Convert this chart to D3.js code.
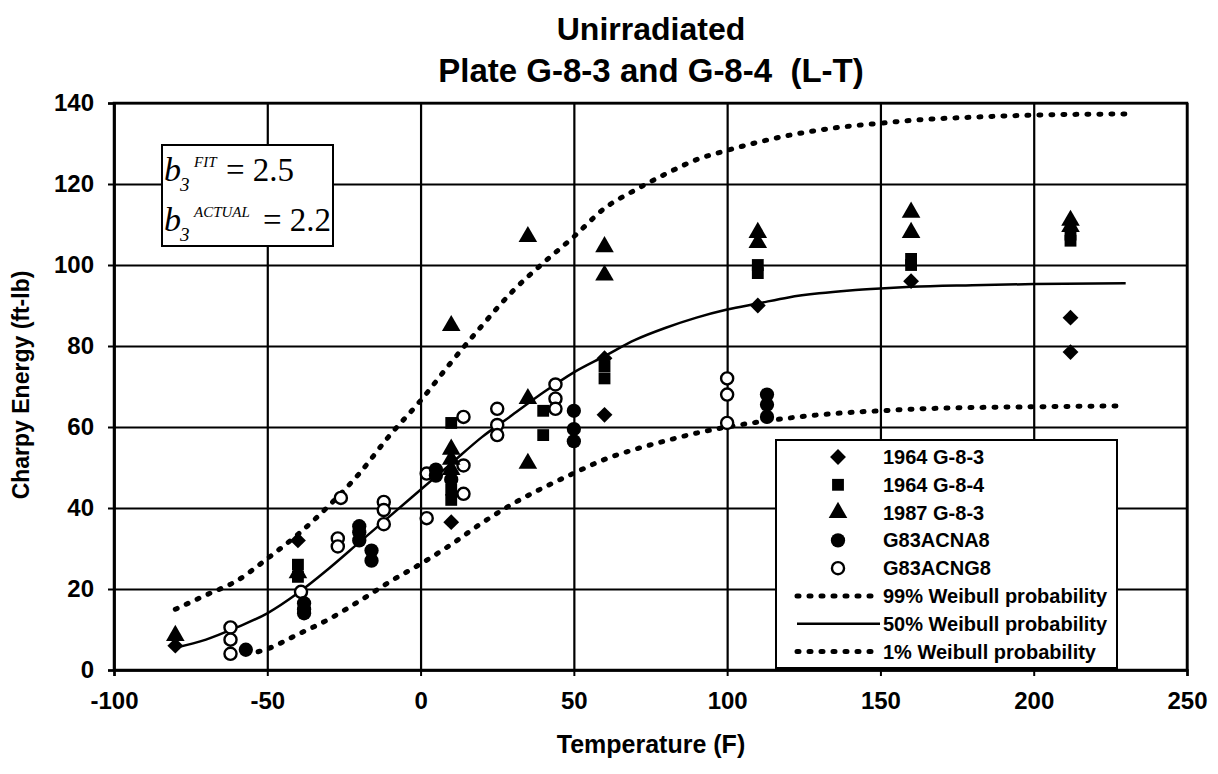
<!DOCTYPE html>
<html>
<head>
<meta charset="utf-8">
<script src="https://cdn.jsdelivr.net/npm/d3@7"></script>
<style>
  body { margin: 0; background: #fff; }
  text { font-family: "Liberation Sans", Arial, sans-serif; font-weight: bold; fill: #000; }
</style>
</head>
<body>
<div id="chart"></div>
<script>
// measured points (Temperature F, Charpy energy ft-lb)
var g83_1964Temp = [-80, -40, 10, 60, 60, 110, 160, 212, 212];
var g83_1964Energy = [6, 32, 36.5, 63, 77, 90, 96, 87, 78.5];

var g84_1964Temp = [-40, -40, 10, 10, 10, 40, 40, 60, 60, 110, 110, 160, 160, 212, 212];
var g84_1964Energy = [26, 23, 61, 44.5, 42, 64, 58, 75, 72, 98, 100, 100, 101.5, 106, 107.5];

var g83_1987Temp = [-80, -40, 10, 10, 10, 10, 35, 35, 35, 60, 60, 110, 110, 160, 160, 212, 212];
var g83_1987Energy = [8.5, 24, 85, 54.5, 52, 49.5, 107, 67, 51, 104.5, 97.5, 108, 105.5, 113, 108, 111, 109.5];

var acna8Temp = [-57, -38, -38, -38, -20, -20, -20, -16, -16, 5, 5, 10, 50, 50, 50, 113, 113, 113];
var acna8Energy = [5, 16.5, 15, 14, 35.5, 34, 32, 29.5, 27, 49.5, 48, 47, 64, 59.5, 56.5, 68, 65.5, 62.5];

var acng8Temp = [-62, -62, -62, -39, -26, -27, -27, -12, -12, -12, 2, 2, 14, 14, 14, 25, 25, 25, 44, 44, 44, 100, 100, 100];
var acng8Energy = [10.5, 7.5, 4, 19.3, 42.5, 32.5, 30.5, 41.5, 39.5, 36, 48.5, 37.5, 62.5, 50.5, 43.5, 64.5, 60.5, 58, 70.5, 67, 64.5, 72, 68, 61];

// Weibull curves
var upperTemp = [-80, -70, -60, -50, -40, -30, -20, -10, 0, 10, 20, 30, 40, 50, 60, 70, 80, 90, 100, 110, 120, 130, 140, 150, 160, 180, 200, 230];
var upperEnergy = [15, 18.5, 22, 27.5, 33.5, 40.5, 48.5, 58, 66.5, 76, 85, 93.5, 100.5, 107, 114, 118.5, 122.5, 126, 128.3, 130.3, 132, 133.3, 134.3, 135, 135.7, 136.5, 137, 137.3];

var midTemp = [-80, -70, -60, -50, -40, -30, -20, -10, 0, 10, 20, 30, 40, 50, 60, 70, 80, 90, 100, 110, 120, 130, 140, 150, 160, 180, 200, 230];
var midEnergy = [5.5, 7.5, 10.5, 14, 19, 25, 31.5, 38, 44.5, 51, 57.5, 63, 68.5, 73.5, 77.5, 81.5, 84.5, 87, 89, 90.5, 92, 93, 93.7, 94.2, 94.6, 95, 95.3, 95.5];

var lowerTemp = [-53, -50, -40, -30, -20, -10, 0, 10, 20, 30, 40, 50, 60, 70, 80, 90, 100, 110, 120, 130, 140, 150, 160, 180, 200, 230];
var lowerEnergy = [4.5, 5.2, 8.8, 12.5, 17, 21.8, 26.2, 31, 36.3, 41, 45, 48.6, 52, 54.5, 56.6, 58.5, 60, 61.2, 62.2, 63, 63.6, 64, 64.4, 64.8, 65, 65.2];

var xTicks = [-100, -50, 0, 50, 100, 150, 200, 250];
var yTicks = [0, 20, 40, 60, 80, 100, 120, 140];

var legendLabels = ["1964 G-8-3", "1964 G-8-4", "1987 G-8-3", "G83ACNA8", "G83ACNG8",
    "99% Weibull probability", "50% Weibull probability", "1% Weibull probability"];

function init() {
    var w = 1218;
    var h = 774;
    var left = 114, right = 1187, top = 103, bottom = 670;

    var svg = d3.select("#chart")
        .append("svg")
        .attr("width", w)
        .attr("height", h);

    var x = d3.scaleLinear().domain([-100, 250]).range([left, right]);
    var y = d3.scaleLinear().domain([0, 140]).range([bottom, top]);

    // grid
    svg.append("g")
        .attr("transform", "translate(0," + bottom + ")")
        .call(d3.axisBottom(x).tickValues(xTicks).tickSize(-(bottom - top)).tickFormat(""))
        .call(function (g) {
            g.select(".domain").remove();
            g.selectAll("line").attr("stroke", "#000").attr("stroke-width", 2.2);
        });
    svg.append("g")
        .attr("transform", "translate(" + left + ",0)")
        .call(d3.axisLeft(y).tickValues(yTicks).tickSize(-(right - left)).tickFormat(""))
        .call(function (g) {
            g.select(".domain").remove();
            g.selectAll("line").attr("stroke", "#000").attr("stroke-width", 2.2);
        });

    // axes with outward ticks and labels
    svg.append("g")
        .attr("transform", "translate(0," + bottom + ")")
        .call(d3.axisBottom(x).tickValues(xTicks).tickSize(6).tickPadding(16).tickFormat(function (d) { return String(d); }))
        .call(function (g) {
            g.select(".domain").attr("stroke-width", 2.5);
            g.selectAll("line").attr("stroke-width", 2);
            g.selectAll("text").style("font-size", "24px").style("font-family", "Liberation Sans, Arial, sans-serif");
        });
    svg.append("g")
        .attr("transform", "translate(" + left + ",0)")
        .call(d3.axisLeft(y).tickValues(yTicks).tickSize(6).tickPadding(14))
        .call(function (g) {
            g.select(".domain").attr("stroke-width", 2.5);
            g.selectAll("line").attr("stroke-width", 2);
            g.selectAll("text").style("font-size", "24px").style("font-family", "Liberation Sans, Arial, sans-serif");
        });

    svg.append("rect")
        .attr("x", left).attr("y", top)
        .attr("width", right - left).attr("height", bottom - top)
        .attr("fill", "none").attr("stroke", "#000").attr("stroke-width", 2.5);

    // curves
    function curvePts(ts, vs) {
        return ts.map(function (t, i) { return [t, vs[i]]; });
    }
    var line = d3.line()
        .x(function (d) { return x(d[0]); })
        .y(function (d) { return y(d[1]); })
        .curve(d3.curveMonotoneX);

    var dotted = "2,10";
    svg.append("path").datum(curvePts(upperTemp, upperEnergy))
        .attr("d", line).attr("fill", "none").attr("stroke", "#000")
        .attr("stroke-width", 5).attr("stroke-linecap", "round").attr("stroke-dasharray", dotted);
    svg.append("path").datum(curvePts(lowerTemp, lowerEnergy))
        .attr("d", line).attr("fill", "none").attr("stroke", "#000")
        .attr("stroke-width", 5).attr("stroke-linecap", "round").attr("stroke-dasharray", dotted);
    svg.append("path").datum(curvePts(midTemp, midEnergy))
        .attr("d", line).attr("fill", "none").attr("stroke", "#000")
        .attr("stroke-width", 2.5);

    // markers
    var sym = {
        diamond: d3.symbol().type(d3.symbolDiamond2).size(160),
        square: d3.symbol().type(d3.symbolSquare).size(140),
        triangle: d3.symbol().type(d3.symbolTriangle).size(150),
        circle: d3.symbol().type(d3.symbolCircle).size(160),
        ring: d3.symbol().type(d3.symbolCircle).size(115)
    };

    function drawSeries(ts, vs, kind) {
        svg.append("g").selectAll("path")
            .data(curvePts(ts, vs))
            .enter()
            .append("path")
            .attr("d", sym[kind])
            .attr("transform", function (d) { return "translate(" + x(d[0]) + "," + y(d[1]) + ")"; })
            .attr("fill", kind == "ring" ? "#fff" : "#000")
            .attr("stroke", "#000")
            .attr("stroke-width", kind == "ring" ? 2.4 : 0);
    }
    drawSeries(acng8Temp, acng8Energy, "ring");
    drawSeries(acna8Temp, acna8Energy, "circle");
    drawSeries(g84_1964Temp, g84_1964Energy, "square");
    drawSeries(g83_1987Temp, g83_1987Energy, "triangle");
    drawSeries(g83_1964Temp, g83_1964Energy, "diamond");

    // legend
    var lg = svg.append("g");
    lg.append("rect")
        .attr("x", 776).attr("y", 440).attr("width", 341).attr("height", 228)
        .attr("fill", "#fff").attr("stroke", "#000").attr("stroke-width", 2);
    var kinds = ["diamond", "square", "triangle", "circle", "ring"];
    legendLabels.forEach(function (lab, i) {
        var cy = 457 + i * 27.8;
        if (i < 5) {
            lg.append("path").attr("d", sym[kinds[i]])
                .attr("transform", "translate(838," + cy + ")")
                .attr("fill", kinds[i] == "ring" ? "#fff" : "#000")
                .attr("stroke", "#000")
                .attr("stroke-width", kinds[i] == "ring" ? 2.4 : 0);
        } else {
            var l = lg.append("line")
                .attr("x1", 797).attr("x2", 880).attr("y1", cy).attr("y2", cy)
                .attr("stroke", "#000");
            if (i == 6) {
                l.attr("stroke-width", 2.5);
            } else {
                l.attr("stroke-width", 5).attr("stroke-linecap", "round").attr("stroke-dasharray", dotted);
            }
        }
        lg.append("text")
            .attr("x", 883).attr("y", cy + 7)
            .style("font-size", "20px")
            .text(lab);
    });

    // annotation box
    var ab = svg.append("g");
    ab.append("rect")
        .attr("x", 162).attr("y", 145).attr("width", 171).attr("height", 101)
        .attr("fill", "#fff").attr("stroke", "#000").attr("stroke-width", 2);
    var rows = [{ sup: "FIT", val: "= 2.5", y: 181, vx: 226 }, { sup: "ACTUAL", val: "= 2.2", y: 231, vx: 263 }];
    function serif(sel, size, italic) {
        return sel.style("font-family", "Liberation Serif, Times New Roman, serif")
            .style("font-weight", "normal")
            .style("font-style", italic ? "italic" : "normal")
            .style("font-size", size + "px");
    }
    rows.forEach(function (r) {
        serif(ab.append("text").attr("x", 164).attr("y", r.y), 34, true).text("b");
        serif(ab.append("text").attr("x", 180).attr("y", r.y + 10), 19, true).text("3");
        serif(ab.append("text").attr("x", 194).attr("y", r.y - 14), 15, true).text(r.sup);
        serif(ab.append("text").attr("x", r.vx).attr("y", r.y), 33, false).text(r.val);
    });

    // titles
    svg.append("text").attr("x", 651).attr("y", 40).attr("text-anchor", "middle")
        .style("font-size", "32px").text("Unirradiated");
    svg.append("text").attr("x", 651).attr("y", 82).attr("text-anchor", "middle")
        .style("font-size", "33px").style("white-space", "pre").text("Plate G-8-3 and G-8-4  (L-T)");
    svg.append("text").attr("x", 651).attr("y", 753).attr("text-anchor", "middle")
        .style("font-size", "25px").text("Temperature (F)");
    svg.append("text")
        .attr("transform", "translate(29,385) rotate(-90)")
        .attr("text-anchor", "middle")
        .style("font-size", "23px").text("Charpy Energy (ft-lb)");
}
window.onload = init;
</script>
</body>
</html>
